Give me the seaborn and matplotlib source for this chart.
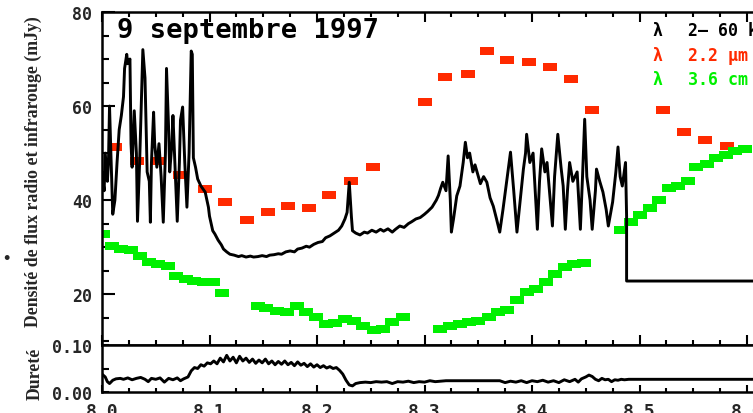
import matplotlib
matplotlib.use('Agg')
import pandas as pd
import matplotlib.pyplot as plt
import seaborn as sns
from matplotlib.path import Path
from matplotlib.ticker import MultipleLocator, FixedLocator

# ---------------- data ----------------
# X-ray (2-60 keV) light curve, scaled, time in hours (UT)
xray_t = [8.000, 8.002, 8.003, 8.005, 8.006, 8.007, 8.008, 8.010, 8.012, 8.014,
          8.016, 8.018, 8.020, 8.021, 8.023, 8.024, 8.026, 8.027, 8.028, 8.030,
          8.032, 8.033, 8.035, 8.038, 8.040, 8.042, 8.044, 8.045, 8.046, 8.048,
          8.049, 8.051, 8.053, 8.055, 8.057, 8.059, 8.060, 8.062, 8.063, 8.065,
          8.066, 8.068, 8.070, 8.072, 8.073, 8.075, 8.077, 8.079, 8.081, 8.083,
          8.084, 8.085, 8.087, 8.089, 8.092, 8.096, 8.099, 8.100, 8.103, 8.105,
          8.108, 8.111, 8.113, 8.116, 8.119, 8.123, 8.127, 8.130, 8.134, 8.138,
          8.141, 8.145, 8.149, 8.153, 8.156, 8.160, 8.164, 8.167, 8.171, 8.175,
          8.179, 8.182, 8.186, 8.190, 8.193, 8.197, 8.201, 8.205, 8.208, 8.212,
          8.216, 8.220, 8.223, 8.226, 8.228, 8.230, 8.232, 8.233, 8.236, 8.240,
          8.244, 8.247, 8.251, 8.255, 8.259, 8.262, 8.266, 8.270, 8.273, 8.277,
          8.281, 8.285, 8.288, 8.292, 8.296, 8.300, 8.303, 8.307, 8.311, 8.313,
          8.315, 8.317, 8.320, 8.322, 8.324, 8.325, 8.327, 8.330, 8.333, 8.336,
          8.338, 8.340, 8.342, 8.345, 8.347, 8.352, 8.355, 8.358, 8.361, 8.364,
          8.367, 8.370, 8.373, 8.377, 8.380, 8.383, 8.386, 8.389, 8.392, 8.394,
          8.395, 8.398, 8.401, 8.403, 8.405, 8.407, 8.409, 8.412, 8.414, 8.417,
          8.419, 8.421, 8.424, 8.427, 8.429, 8.431, 8.433, 8.435, 8.438, 8.442,
          8.445, 8.447, 8.449, 8.451, 8.454, 8.456, 8.459, 8.460, 8.463, 8.466,
          8.469, 8.471, 8.473, 8.475, 8.478, 8.480, 8.482, 8.484, 8.487, 8.488,
          8.488, 8.750]
xray_v = [46.0, 42.0, 50.0, 44.0, 48.0, 60.0, 52.0, 37.0, 40.0, 48.0,
          55.0, 58.0, 62.0, 68.0, 71.0, 69.0, 70.0, 52.0, 47.0, 59.0,
          50.0, 35.5, 48.0, 72.0, 66.0, 46.0, 44.0, 35.3, 48.0, 58.7,
          52.0, 47.0, 52.0, 45.0, 35.3, 50.0, 68.0, 55.0, 46.0, 52.0,
          58.0, 47.0, 35.5, 48.0, 57.0, 59.8, 48.0, 38.5, 50.0, 71.7,
          71.0, 49.0, 47.0, 44.5, 43.0, 41.7, 38.5, 36.6, 33.5, 32.8,
          31.5, 30.5, 29.6, 29.0, 28.5, 28.3, 28.0, 28.2, 27.9, 28.1,
          27.9, 28.0, 28.2, 28.0, 28.3, 28.4, 28.6, 28.5, 29.0, 29.2,
          29.0, 29.6, 29.8, 30.2, 30.0, 30.6, 31.0, 31.2, 32.0, 32.4,
          33.0, 33.6, 34.5, 36.0, 37.4, 43.8, 36.5, 33.5, 33.0, 32.6,
          33.2, 33.0, 33.6, 33.2, 33.8, 33.4, 33.9, 33.2, 33.8, 34.5,
          34.2, 35.0, 35.4, 36.0, 36.3, 37.0, 37.6, 38.5, 40.0, 41.0,
          42.5, 43.8, 42.0, 49.4, 40.0, 33.2, 36.0, 40.9, 43.0, 48.0,
          52.3, 49.0, 50.0, 46.0, 47.5, 43.5, 45.0, 43.8, 40.5, 38.7,
          36.0, 33.2, 38.0, 45.0, 50.2, 42.0, 33.2, 40.0, 46.6, 50.0,
          54.0, 48.0, 50.0, 42.0, 33.8, 44.0, 50.9, 46.0, 48.0, 40.0,
          34.5, 45.0, 54.0, 47.0, 43.0, 33.8, 42.0, 48.0, 44.0, 46.0,
          33.8, 45.0, 57.2, 45.0, 40.0, 33.8, 42.0, 46.6, 44.0, 41.7,
          38.0, 34.5, 37.0, 39.6, 46.0, 51.3, 45.0, 43.0, 48.0, 36.6,
          22.8, 22.8]

# infrared 2.2 micron
ir_t = [8.012, 8.033, 8.052, 8.073, 8.096, 8.114, 8.135, 8.154, 8.173, 8.193,
        8.211, 8.232, 8.252, 8.300, 8.319, 8.340, 8.358, 8.377, 8.397, 8.417,
        8.436, 8.456, 8.522, 8.541, 8.561, 8.581]
ir_v = [51.3, 48.3, 48.3, 45.3, 42.3, 39.6, 35.7, 37.4, 38.7, 38.3,
        41.1, 44.0, 47.0, 60.9, 66.2, 66.8, 71.7, 69.8, 69.4, 68.3,
        65.7, 59.1, 59.1, 54.5, 52.8, 51.5]

# radio 3.6 cm
radio_t = [8.001, 8.009, 8.018, 8.027, 8.035, 8.044, 8.052, 8.061, 8.069, 8.078,
           8.086, 8.095, 8.103, 8.112, 8.145, 8.153, 8.163, 8.172, 8.181, 8.190,
           8.199, 8.208, 8.217, 8.226, 8.234, 8.243, 8.253, 8.261, 8.270, 8.280,
           8.314, 8.324, 8.333, 8.341, 8.350, 8.360, 8.368, 8.377, 8.386, 8.395,
           8.404, 8.413, 8.421, 8.431, 8.439, 8.448, 8.483, 8.492, 8.500, 8.510,
           8.518, 8.527, 8.536, 8.545, 8.553, 8.563, 8.571, 8.580, 8.589, 8.598]
radio_v = [32.8, 30.2, 29.6, 29.4, 28.1, 26.8, 26.4, 26.0, 23.8, 23.2,
           22.8, 22.6, 22.6, 20.2, 17.4, 17.0, 16.4, 16.2, 17.4, 16.2,
           15.1, 13.6, 13.8, 14.7, 14.3, 13.2, 12.3, 12.6, 14.0, 15.1,
           12.6, 13.2, 13.6, 14.0, 14.3, 15.1, 16.2, 16.6, 18.7, 20.4,
           21.1, 22.6, 24.3, 25.7, 26.4, 26.6, 33.6, 35.3, 36.8, 38.3,
           40.0, 42.6, 43.0, 44.0, 47.0, 47.7, 48.9, 49.6, 50.4, 50.9]

# hardness ratio
hard_t = [8.000, 8.003, 8.005, 8.007, 8.010, 8.013, 8.017, 8.020, 8.024, 8.028,
          8.032, 8.036, 8.040, 8.043, 8.046, 8.050, 8.054, 8.058, 8.062, 8.066,
          8.070, 8.073, 8.076, 8.080, 8.083, 8.086, 8.089, 8.092, 8.095, 8.098,
          8.101, 8.104, 8.107, 8.110, 8.113, 8.116, 8.119, 8.122, 8.125, 8.128,
          8.131, 8.134, 8.137, 8.140, 8.143, 8.146, 8.149, 8.152, 8.155, 8.158,
          8.161, 8.164, 8.167, 8.170, 8.173, 8.176, 8.179, 8.182, 8.185, 8.188,
          8.191, 8.194, 8.197, 8.200, 8.203, 8.206, 8.209, 8.212, 8.215, 8.218,
          8.221, 8.224, 8.227, 8.230, 8.233, 8.236, 8.240, 8.245, 8.250, 8.255,
          8.260, 8.265, 8.270, 8.275, 8.280, 8.285, 8.290, 8.295, 8.300, 8.305,
          8.310, 8.315, 8.320, 8.330, 8.340, 8.350, 8.360, 8.370, 8.375, 8.380,
          8.385, 8.390, 8.395, 8.400, 8.405, 8.410, 8.415, 8.420, 8.425, 8.430,
          8.435, 8.440, 8.443, 8.446, 8.450, 8.453, 8.456, 8.459, 8.462, 8.465,
          8.468, 8.471, 8.474, 8.477, 8.480, 8.483, 8.486, 8.490, 8.750]
hard_v = [0.038, 0.032, 0.022, 0.018, 0.025, 0.028, 0.029, 0.027, 0.030, 0.026,
          0.029, 0.031, 0.027, 0.022, 0.029, 0.027, 0.030, 0.021, 0.029, 0.026,
          0.030, 0.024, 0.028, 0.032, 0.045, 0.052, 0.050, 0.058, 0.055, 0.062,
          0.060, 0.066, 0.060, 0.072, 0.064, 0.078, 0.066, 0.074, 0.062, 0.076,
          0.066, 0.072, 0.063, 0.070, 0.061, 0.068, 0.062, 0.070, 0.060, 0.066,
          0.058, 0.065, 0.059, 0.066, 0.058, 0.063, 0.056, 0.064, 0.057, 0.061,
          0.054, 0.060, 0.053, 0.058, 0.052, 0.056, 0.051, 0.054, 0.050, 0.052,
          0.046, 0.038, 0.025, 0.015, 0.013, 0.018, 0.020, 0.021, 0.020, 0.022,
          0.021, 0.022, 0.018, 0.022, 0.021, 0.023, 0.020, 0.022, 0.021, 0.024,
          0.022, 0.023, 0.024, 0.024, 0.024, 0.024, 0.024, 0.024, 0.020, 0.023,
          0.021, 0.024, 0.020, 0.024, 0.022, 0.025, 0.021, 0.024, 0.020, 0.026,
          0.022, 0.027, 0.021, 0.028, 0.032, 0.036, 0.033, 0.027, 0.024, 0.029,
          0.026, 0.027, 0.022, 0.026, 0.025, 0.027, 0.026, 0.027, 0.027]

x_ticks = [8.0, 8.1, 8.2, 8.3, 8.4, 8.5, 8.6]
x_ticklabels = ['8.0', '8.1', '8.2', '8.3', '8.4', '8.5', '8.6']
flux_ticks = [20, 40, 60, 80]
hard_ticks = [0.0, 0.1]
hard_ticklabels = ['0.00', '0.10']

legend_labels = ['2\u2013 60 keV', '2.2 \u03bcm', '3.6 cm']
legend_y = [76.2, 70.9, 65.7]

RED = '#ff2a00'
GREEN = '#00f000'

xray = pd.DataFrame({'t': xray_t, 'v': xray_v})
ir = pd.DataFrame({'t': ir_t, 'v': ir_v})
radio = pd.DataFrame({'t': radio_t, 'v': radio_v})
hard = pd.DataFrame({'t': hard_t, 'v': hard_v})

# ---------------- style ----------------
sns.set_theme(style='white')
plt.rcParams['font.family'] = ['DejaVu Sans Mono', 'DejaVu Sans']
plt.rcParams['font.weight'] = 'bold'
plt.rcParams['axes.edgecolor'] = 'black'
plt.rcParams['axes.linewidth'] = 1.8

fig = plt.figure(figsize=(7.53, 4.14), dpi=100)
# axes run off the right edge, as in the cropped original
ax = fig.add_axes([102 / 753, 68 / 414, 752.5 / 753, 333 / 414])
axh = fig.add_axes([102 / 753, 21 / 414, 752.5 / 753, 47 / 414])

# flat rectangular marker
rect = Path([(-1, -0.6), (1, -0.6), (1, 0.6), (-1, 0.6), (-1, -0.6)],
            [Path.MOVETO, Path.LINETO, Path.LINETO, Path.LINETO, Path.CLOSEPOLY])

sns.scatterplot(data=ir, x='t', y='v', marker=rect, s=90, color=RED,
                linewidth=0, ax=ax, zorder=2)
sns.scatterplot(data=radio, x='t', y='v', marker=rect, s=90, color=GREEN,
                linewidth=0, ax=ax, zorder=2)
sns.lineplot(data=xray, x='t', y='v', sort=False, estimator=None,
             color='black', linewidth=2.1, ax=ax, zorder=3)
sns.lineplot(data=hard, x='t', y='v', sort=False, estimator=None,
             color='black', linewidth=2.1, ax=axh, zorder=3)

# main panel
ax.set_xlim(8.0, 8.7)
ax.set_ylim(9.2, 80)
ax.xaxis.set_major_locator(FixedLocator(x_ticks))
ax.xaxis.set_minor_locator(MultipleLocator(0.025))
ax.yaxis.set_major_locator(FixedLocator(flux_ticks))
ax.yaxis.set_minor_locator(MultipleLocator(5))
ax.tick_params(axis='both', which='both', direction='in', color='black',
               width=1.5, top=True, bottom=True, left=True, right=True,
               labelbottom=False)
ax.tick_params(axis='x', which='major', length=7)
ax.tick_params(axis='x', which='minor', length=3.5)
ax.tick_params(axis='y', which='major', length=9.5, pad=7, labelsize=12)
ax.tick_params(axis='y', which='minor', length=5)
ax.set_xlabel('')
ax.set_ylabel('')

ax.text(8.014, 74.7, '9 septembre 1997', fontsize=19.5, fontweight='bold',
        va='baseline', ha='left', color='black')

colors = ['black', RED, GREEN]
for lab, yy, c in zip(legend_labels, legend_y, colors):
    ax.text(8.512, yy, '\u03bb', fontsize=12, fontweight='bold', color=c,
            va='center', ha='left')
    ax.text(8.545, yy, lab, fontsize=12, fontweight='bold', color=c,
            va='center', ha='left')

# hardness panel
axh.set_xlim(8.0, 8.7)
axh.set_ylim(0.0, 0.1)
axh.xaxis.set_major_locator(FixedLocator(x_ticks))
axh.xaxis.set_minor_locator(MultipleLocator(0.025))
axh.set_xticklabels(x_ticklabels)
axh.yaxis.set_major_locator(FixedLocator(hard_ticks))
axh.set_yticklabels(hard_ticklabels)
axh.yaxis.set_minor_locator(MultipleLocator(0.05))
axh.tick_params(axis='both', which='both', direction='in', color='black',
                width=1.5, top=False, bottom=True, left=True, right=True)
axh.tick_params(axis='x', which='major', length=5, pad=7, labelsize=13)
axh.tick_params(axis='x', which='minor', length=3)
axh.tick_params(axis='y', which='major', length=5, pad=7, labelsize=12)
axh.tick_params(axis='y', which='minor', length=5)
axh.set_xlabel('')
axh.set_ylabel('')

# axis titles
fig.text(33 / 753, 1 - 172 / 414, 'Densit\u00e9 de flux radio et infrarouge (mJy)',
         rotation=90, ha='center', va='center', fontsize=12.8, fontweight='bold',
         family=['Liberation Serif', 'DejaVu Serif'])
fig.text(35 / 753, 1 - 374 / 414, 'Duret\u00e9', rotation=90, ha='center',
         va='center', fontsize=12.8, fontweight='bold',
         family=['Liberation Serif', 'DejaVu Serif'])
fig.text(6 / 753, 1 - 259 / 414, '\u2022', ha='center', va='center', fontsize=10)

fig.savefig('out.png', dpi=100)
